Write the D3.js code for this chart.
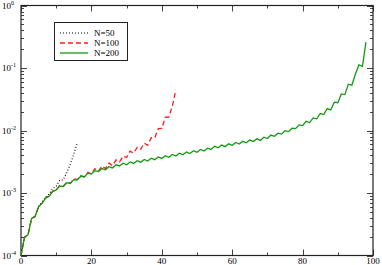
<!DOCTYPE html>
<html>
<head>
<meta charset="utf-8">
<script src="https://cdn.jsdelivr.net/npm/d3@7"></script>
<style>
  body { margin: 0; background: #fff; }
  text { font-family: "Liberation Serif", "DejaVu Serif", serif; fill: #000; }
</style>
</head>
<body>
<div id="chart"></div>
<script>
// values, x = step index
const n50 = [1.0e-4, 1.95e-4, 2.15e-4, 3.9e-4, 4.3e-4, 6.1e-4, 7.2e-4, 8.6e-4, 9.6e-4, 1.18e-3,
  1.28e-3, 1.6e-3, 1.62e-3, 2.1e-3, 2.9e-3, 4.2e-3, 6.3e-3];

const n100 = [1.0e-4, 1.95e-4, 2.15e-4, 3.9e-4, 4.2e-4, 6.0e-4, 6.9e-4, 8.4e-4, 8.9e-4, 1.07e-3,
  1.12e-3, 1.32e-3, 1.27e-3, 1.50e-3, 1.43e-3, 1.68e-3, 1.64e-3, 1.90e-3, 1.82e-3, 2.14e-3,
  2.03e-3, 2.45e-3, 2.23e-3, 2.69e-3, 2.47e-3, 3.02e-3, 2.74e-3, 3.38e-3, 3.15e-3, 3.88e-3,
  3.70e-3, 4.68e-3, 4.35e-3, 5.36e-3, 4.99e-3, 6.29e-3, 5.81e-3, 7.65e-3, 7.65e-3, 1.07e-2,
  1.08e-2, 1.63e-2, 1.64e-2, 2.46e-2, 4.47e-2];

const n200 = [1.0e-4, 1.95e-4, 2.15e-4, 3.9e-4, 4.2e-4, 6.0e-4, 6.9e-4, 8.3e-4, 8.9e-4, 1.05e-3,
  1.12e-3, 1.29e-3, 1.27e-3, 1.46e-3, 1.42e-3, 1.64e-3, 1.63e-3, 1.85e-3, 1.80e-3, 2.08e-3,
  2.01e-3, 2.28e-3, 2.20e-3, 2.46e-3, 2.35e-3, 2.64e-3, 2.52e-3, 2.83e-3, 2.71e-3, 3.00e-3,
  2.83e-3, 3.14e-3, 2.97e-3, 3.29e-3, 3.11e-3, 3.44e-3, 3.25e-3, 3.61e-3, 3.41e-3, 3.78e-3,
  3.57e-3, 3.95e-3, 3.73e-3, 4.14e-3, 3.91e-3, 4.34e-3, 4.10e-3, 4.54e-3, 4.29e-3, 4.75e-3,
  4.49e-3, 4.98e-3, 4.70e-3, 5.21e-3, 4.98e-3, 5.58e-3, 5.28e-3, 5.84e-3, 5.52e-3, 6.13e-3,
  5.79e-3, 6.42e-3, 6.06e-3, 6.72e-3, 6.35e-3, 7.03e-3, 6.64e-3, 7.36e-3, 6.95e-3, 7.80e-3,
  7.45e-3, 8.46e-3, 8.07e-3, 9.06e-3, 8.76e-3, 9.93e-3, 9.60e-3, 1.09e-2, 1.07e-2, 1.23e-2,
  1.20e-2, 1.40e-2, 1.34e-2, 1.59e-2, 1.54e-2, 1.87e-2, 1.80e-2, 2.24e-2, 2.13e-2, 2.84e-2,
  2.78e-2, 3.85e-2, 3.75e-2, 5.5e-2, 5.3e-2, 8.0e-2, 1.12e-1, 1.06e-1, 2.6e-1];

const seriesNames = ["N=50", "N=100", "N=200"];
const seriesData = [n50, n100, n200];
const seriesColors = ["#000000", "#ff1a1a", "#129a12"];
const seriesDash = ["1,2", "5,3", null];

const xTicks = [0, 20, 40, 60, 80, 100];
const yDecades = [-4, -3, -2, -1, 0];

const width = 382, height = 265;
const margin = {top: 5.5, right: 9, bottom: 9.5, left: 21};

const x = d3.scaleLinear().domain([0, 100]).range([margin.left, width - margin.right]);
const y = d3.scaleLog().domain([1e-4, 1]).range([height - margin.bottom, margin.top]);

const svg = d3.select("#chart").append("svg")
  .attr("width", width)
  .attr("height", height);

// minor ticks: every 10 on x, 2..9 per decade on y
const xMinor = d3.range(0, 101, 10);
const yMinor = [];
yDecades.slice(0, -1).forEach(e => {
  for (let k = 2; k <= 9; k++) yMinor.push(k * Math.pow(10, e));
});
const yMajor = yDecades.map(e => Math.pow(10, e));

const tickColor = "#444";
const x0 = x.range()[0], x1 = x.range()[1];
const y0 = y.range()[0], y1 = y.range()[1];

const ticks = svg.append("g").attr("stroke", tickColor).attr("stroke-width", 1);
xMinor.forEach(v => {
  const len = v % 20 === 0 ? 6 : 3;
  const px = Math.round(x(v)) + 0.5;
  ticks.append("line").attr("x1", px).attr("x2", px).attr("y1", y0).attr("y2", y0 - len);
  ticks.append("line").attr("x1", px).attr("x2", px).attr("y1", y1).attr("y2", y1 + len);
});
yMinor.concat(yMajor).forEach(v => {
  const len = yMajor.includes(v) ? 6 : 3;
  const py = Math.round(y(v)) + 0.5;
  ticks.append("line").attr("x1", x0).attr("x2", x0 + len).attr("y1", py).attr("y2", py);
  ticks.append("line").attr("x1", x1).attr("x2", x1 - len).attr("y1", py).attr("y2", py);
});

// frame
svg.append("rect")
  .attr("x", x0).attr("y", y1)
  .attr("width", x1 - x0).attr("height", y0 - y1)
  .attr("fill", "none").attr("stroke", "#222").attr("stroke-width", 1.2);

// x tick labels
svg.append("g").selectAll("text")
  .data(xTicks)
  .enter().append("text")
  .attr("x", d => x(d))
  .attr("y", height - 1)
  .attr("text-anchor", "middle")
  .attr("font-size", 9)
  .text(d => d);

// y tick labels 10^e
const yl = svg.append("g").selectAll("text")
  .data(yDecades)
  .enter().append("text")
  .attr("x", 2)
  .attr("y", d => y(Math.pow(10, d)) + 3)
  .attr("font-size", 9);
yl.append("tspan").text("10");
yl.append("tspan").attr("font-size", 6).attr("dy", -4).text(d => d);

// lines
const line = d3.line()
  .x((d, i) => x(i))
  .y(d => y(d));

svg.append("g").selectAll("path")
  .data(seriesData)
  .enter().append("path")
  .attr("d", line)
  .attr("fill", "none")
  .attr("stroke", (d, i) => seriesColors[i])
  .attr("stroke-width", (d, i) => i === 0 ? 1.1 : 1.3)
  .attr("stroke-dasharray", (d, i) => seriesDash[i]);

// legend
const legend = svg.append("g");
legend.append("rect")
  .attr("x", 54.5).attr("y", 22.5)
  .attr("width", 73).attr("height", 38)
  .attr("fill", "#fff").attr("stroke", "#222").attr("stroke-width", 1);

seriesNames.forEach((name, i) => {
  const ly = 33 + i * 10;
  legend.append("line")
    .attr("x1", 60).attr("x2", 88)
    .attr("y1", ly).attr("y2", ly)
    .attr("stroke", seriesColors[i])
    .attr("stroke-width", i === 0 ? 1.1 : 1.3)
    .attr("stroke-dasharray", seriesDash[i]);
  legend.append("text")
    .attr("x", 94).attr("y", ly + 3)
    .attr("font-size", 9)
    .text(name);
});
</script>
</body>
</html>
